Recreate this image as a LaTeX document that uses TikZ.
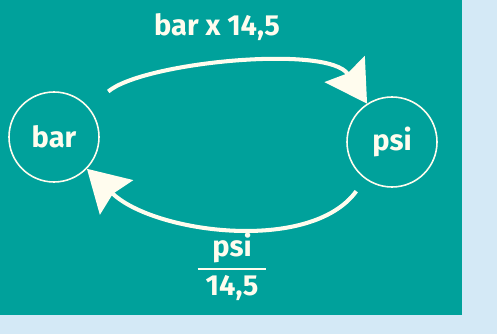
\documentclass[tikz,border=0pt]{standalone}
\usepackage{fontspec}
\setmainfont{Fira Sans}
\usepackage{tikz}
\usetikzlibrary{arrows.meta}
\definecolor{teal1}{RGB}{0,161,155}
\definecolor{paleblue}{RGB}{212,233,246}
\definecolor{cream}{RGB}{255,252,238}
\tikzset{
    every node/.style={text=cream, font=\fontsize{16.5}{19}\selectfont\bfseries}
}
\tikzset{
    unit/.style={circle, draw=cream, line width=0.9pt, minimum size=1.8cm, inner sep=0pt}
}
\tikzset{
    flow/.style={draw=cream, line width=2.3pt,
    	-{Stealth[length=0.82cm,width=0.95cm,inset=0.1cm]}}
}

\begin{document}
\begin{tikzpicture}
	\useasboundingbox (0cm, 0cm) rectangle (9.94cm, -6.68cm);
	\fill[paleblue] (0cm, 0cm) rectangle (9.94cm, -6.68cm);
	\fill[teal1] (0cm, 0cm) rectangle (9.24cm, -6.30cm);
	
	\node (1) [unit] at (1.08cm, -2.74cm) {bar};
	\node (2) [unit] at (7.84cm, -2.84cm) {psi};
	\node (3) [anchor=base] at (4.34cm, -0.72cm) {bar x 14,5};
	\node (4) at (4.64cm, -5.38cm) {\arrayrulewidth=1.2pt%
		\renewcommand{\arraystretch}{1.1}%
		\begin{tabular}{@{\hspace{0.16cm}}c@{\hspace{0.16cm}}}psi\\\hline 14,5\end{tabular}};
	
	\draw[flow, shorten <=0.5cm] (1) to[out=40, in=123, looseness=0.65] (2);
	\draw[flow, shorten <=0.3cm] (2) to[out=234, in=316, looseness=0.85] (1);
\end{tikzpicture}
\end{document}
